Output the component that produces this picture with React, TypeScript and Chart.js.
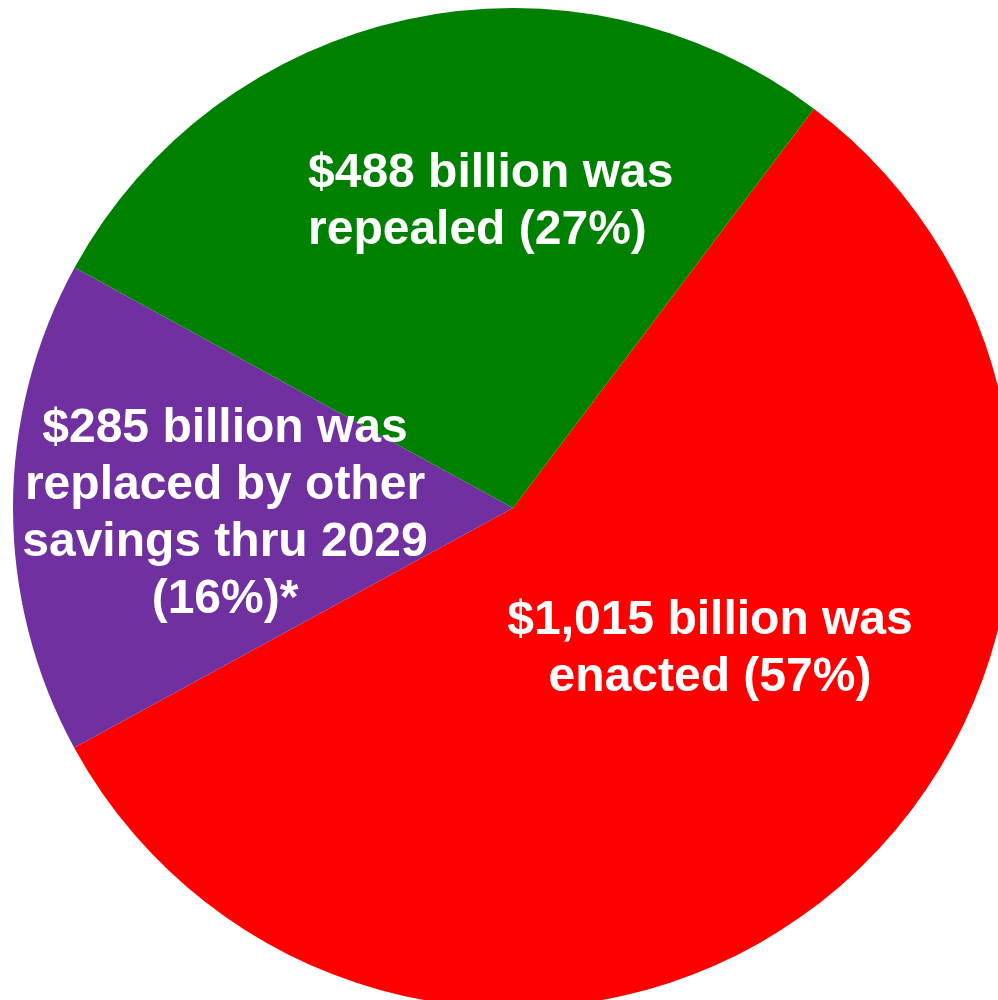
import React, { useEffect, useRef } from "react";
import { Chart, registerables } from "chart.js";

Chart.register(...registerables);

// Data (clockwise from the upper-right boundary)
const categories = ["Enacted", "Replaced by other savings thru 2029", "Repealed"];
const values = [1015, 285, 488]; // $ billion
const colors = ["#FF0000", "#7030A0", "#008000"];
const labelLines = [
  ["$1,015 billion was", "enacted (57%)"],
  ["$285 billion was", "replaced by other", "savings thru 2029", "(16%)*"],
  ["$488 billion was", "repealed (27%)"],
];

// Label placement relative to pie centre, in units of the radius
const labelPlacement = [
  { dx: 0.394, dy: 0.252, align: "center" as CanvasTextAlign },
  { dx: -0.576, dy: -0.132, align: "center" as CanvasTextAlign },
  { dx: -0.41, dy: -0.642, align: "left" as CanvasTextAlign },
];

const FONT = 'bold 48px "Liberation Sans", Arial, Helvetica, sans-serif';
const LINE_HEIGHT = 57;

const sliceLabels = {
  id: "sliceLabels",
  afterDatasetsDraw(chart: any) {
    const meta = chart.getDatasetMeta(0);
    const arc0 = meta.data[0];
    if (!arc0) return;
    const { x, y, outerRadius } = arc0.getProps(["x", "y", "outerRadius"], true);
    const ctx = chart.ctx;
    ctx.save();
    ctx.font = FONT;
    ctx.fillStyle = "#FFFFFF";
    ctx.textBaseline = "alphabetic";
    labelLines.forEach((lines, i) => {
      const p = labelPlacement[i];
      ctx.textAlign = p.align;
      const bx = x + p.dx * outerRadius;
      const by = y + p.dy * outerRadius;
      lines.forEach((ln, j) => {
        ctx.fillText(ln, bx, by + j * LINE_HEIGHT);
      });
    });
    ctx.restore();
  },
};

export default function App() {
  const canvasRef = useRef<HTMLCanvasElement | null>(null);

  useEffect(() => {
    if (!canvasRef.current) return;
    const chart = new Chart(canvasRef.current, {
      type: "pie",
      data: {
        labels: categories,
        datasets: [
          {
            data: values,
            backgroundColor: colors,
            borderWidth: 0,
            clip: false,
          } as any,
        ],
      },
      options: {
        responsive: false,
        animation: false,
        devicePixelRatio: 1,
        rotation: 37,
        radius: 500,
        layout: { padding: { left: 28, top: 16, right: 0, bottom: 0 } },
        plugins: {
          legend: { display: false },
          tooltip: { enabled: false },
        },
      } as any,
      plugins: [sliceLabels],
    });
    return () => chart.destroy();
  }, []);

  return (
    <div
      style={{
        position: "fixed",
        left: 0,
        top: 0,
        width: 998,
        height: 1000,
        overflow: "hidden",
        background: "#FFFFFF",
      }}
    >
      <canvas ref={canvasRef} width={998} height={1000} style={{ display: "block" }} />
    </div>
  );
}
